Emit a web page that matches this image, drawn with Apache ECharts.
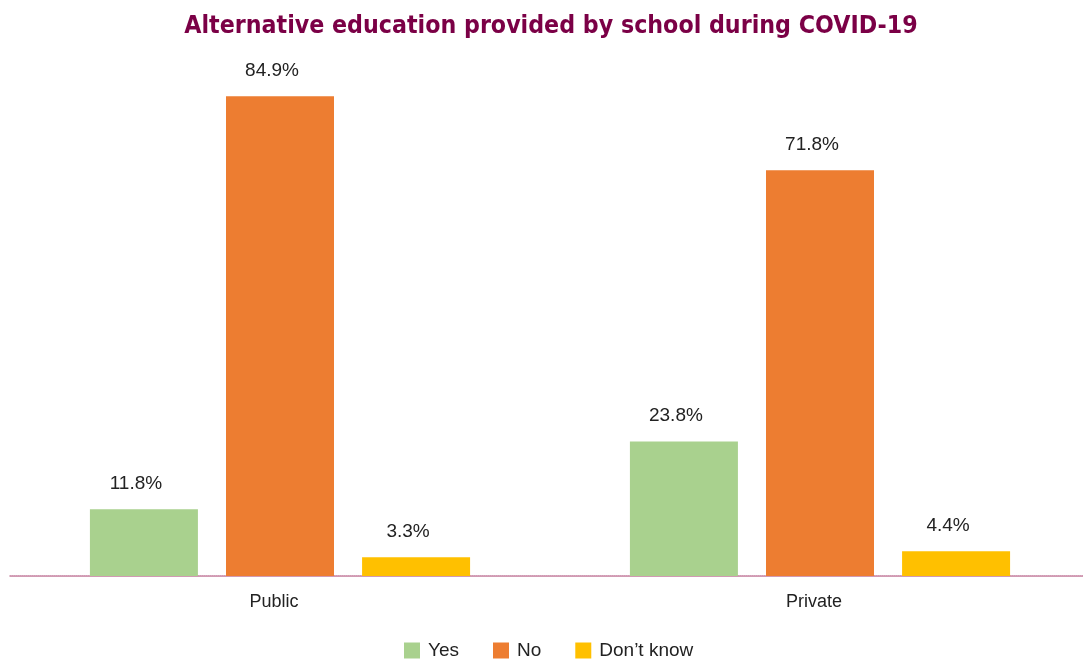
<!DOCTYPE html>
<html><head><meta charset="utf-8">
<script src="https://cdn.jsdelivr.net/npm/echarts@6/dist/echarts.min.js"></script>
<style>html,body{margin:0;padding:0;background:#fff}#c{width:1083px;height:662px}</style>
</head><body><div id="c"></div>
<script>
const categories = ['Public', 'Private'];
const seriesNames = ['Yes', 'No', 'Don\u2019t know'];
const yesValues = [11.8, 23.8];
const noValues = [84.9, 71.8];
const dontKnowValues = [3.3, 4.4];
const colors = ['#A9D18E', '#ED7D31', '#FFC000'];
const FONT = 'Liberation Sans, Arial, sans-serif';
const chart = echarts.init(document.getElementById('c'));
const mk = (name, data, color) => ({
  name, type: 'bar', data, barWidth: 108, barGap: '26%',
  itemStyle: { color },
  label: { show: true, position: 'top', distance: 16, offset: [-8, 0], formatter: p => p.value.toFixed(1) + '%',
           color: '#222', fontSize: 19, fontFamily: FONT }
});
chart.setOption({
  animation: false,
  title: { text: 'Alternative education provided by school during COVID-19', left: 546, textAlign: 'center', top: 9,
           textStyle: { color: '#7B0046', fontSize: 24.7, fontWeight: 'bold', fontFamily: 'DejaVu Sans Condensed, Liberation Sans Narrow, sans-serif' } },
  legend: { bottom: -3, left: 399, itemWidth: 16, itemHeight: 16, itemGap: 34, icon: 'rect',
            textStyle: { fontSize: 19, color: '#222', fontFamily: FONT, padding: [0, 0, 0, 3] } },
  grid: { left: 10, right: -7, top: 11, bottom: 86, outerBoundsMode: 'none', containLabel: false },
  xAxis: { type: 'category', data: categories,
           axisLine: { lineStyle: { color: '#c27a9a', type: [1, 1], width: 1.5 } },
           axisTick: { show: false },
           axisLabel: { fontSize: 18, color: '#222', margin: 17, padding: [0, 12, 0, 0], fontFamily: FONT } },
  yAxis: { type: 'value', min: 0, max: 100, show: false, splitLine: { show: false } },
  series: [mk(seriesNames[0], yesValues, colors[0]), mk(seriesNames[1], noValues, colors[1]), mk(seriesNames[2], dontKnowValues, colors[2])]
});
</script></body></html>
